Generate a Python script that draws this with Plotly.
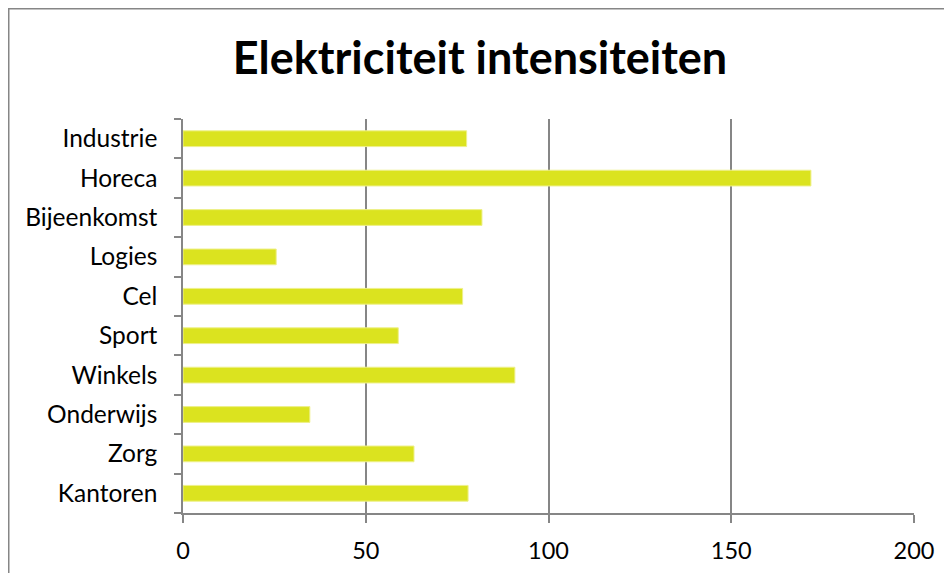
import plotly.graph_objects as go

# ==========================================================
# DATA
# ==========================================================

sectors = [
    "Kantoren", "Zorg", "Onderwijs", "Winkels", "Sport",
    "Cel", "Logies", "Bijeenkomst", "Horeca", "Industrie",
]

intensity = [78.0, 63.2, 34.7, 90.8, 58.9, 76.5, 25.5, 81.8, 171.8, 77.6]

x_ticks = [0, 50, 100, 150, 200]

# ==========================================================
# THEME
# ==========================================================

BAR = "#DBE31F"
GRID = "#868686"
TEXT = "#000000"
FONT = "Lato"

# page body has an 8px margin, so the figure is drawn 8px in
W, H = 944, 565
L, R, T, B = 175, 38, 111, 60

fig = go.Figure()

fig.add_trace(
    go.Bar(
        x=intensity,
        y=sectors,
        orientation="h",
        width=0.4,
        marker=dict(color=BAR, line=dict(color="#EEF08A", width=1)),
    )
)

fig.update_layout(
    width=W,
    height=H,
    paper_bgcolor="white",
    plot_bgcolor="white",
    showlegend=False,
    margin=dict(l=L, r=R, t=T, b=B),
    font=dict(family=FONT, size=24, color=TEXT),
    title=dict(
        text="<b>Elektriciteit intensiteiten</b>",
        x=0.5,
        xanchor="center",
        y=1 - 50 / H,
        yanchor="middle",
        font=dict(family=FONT, size=45, color=TEXT),
    ),
    xaxis=dict(
        range=[0, 200],
        tickvals=x_ticks,
        automargin=False,
        showgrid=True,
        gridcolor=GRID,
        gridwidth=1.5,
        zeroline=False,
        showline=True,
        linecolor=GRID,
        linewidth=1.5,
        ticks="outside",
        ticklen=8,
        tickcolor=GRID,
        tickwidth=1.5,
        ticklabelstandoff=8,
        tickfont=dict(family=FONT, size=23.5, color=TEXT),
    ),
    yaxis=dict(
        type="category",
        categoryorder="array",
        categoryarray=sectors,
        automargin=False,
        tickson="boundaries",
        ticks="outside",
        ticklen=7,
        tickcolor=GRID,
        tickwidth=1.5,
        showline=True,
        linecolor=GRID,
        linewidth=1.5,
        showgrid=False,
        ticklabelstandoff=19,
        tickfont=dict(family=FONT, size=24.5, color=TEXT),
    ),
)

# outer chart border (right and bottom edges run off the page)
pw = W - L - R
ph = H - T - B
fig.add_shape(
    type="rect",
    xref="paper",
    yref="paper",
    x0=(0.5 - L) / pw,
    x1=(W + 10 - L) / pw,
    y0=-(B + 10) / ph,
    y1=(H - B - 0.5) / ph,
    line=dict(color=GRID, width=2),
    layer="below",
)

fig.write_html("out.html")
